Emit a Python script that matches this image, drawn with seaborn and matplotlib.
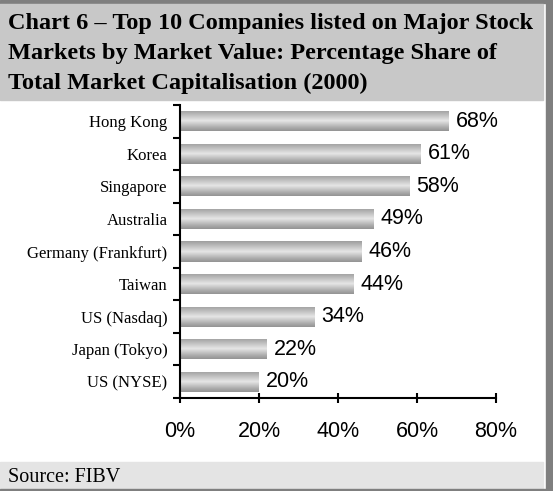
import numpy as np
import pandas as pd
import matplotlib
matplotlib.use("Agg")
import matplotlib.pyplot as plt
from matplotlib.patches import Rectangle
import seaborn as sns

# Data
markets = ["Hong Kong", "Korea", "Singapore", "Australia", "Germany (Frankfurt)",
           "Taiwan", "US (Nasdaq)", "Japan (Tokyo)", "US (NYSE)"]
share = [68, 61, 58, 49, 46, 44, 34, 22, 20]
x_ticks = [0, 20, 40, 60, 80]
x_tick_labels = ["0%", "20%", "40%", "60%", "80%"]

title = ("Chart 6 \u2013 Top 10 Companies listed on Major Stock\n"
         "Markets by Market Value: Percentage Share of\n"
         "Total Market Capitalisation (2000)")
source = "Source: FIBV"

df = pd.DataFrame({"market": markets, "share": share})

sns.set_style("white")
plt.rcParams["font.family"] = ["Liberation Serif", "DejaVu Serif"]
plt.rcParams["text.color"] = "black"
plt.rcParams["xtick.color"] = "black"
plt.rcParams["ytick.color"] = "black"

W, H = 553, 491
fig = plt.figure(figsize=(W / 100, H / 100), dpi=100)

def px(x0, y0, w, h, color):
    # rectangle in pixel units (top-left origin) drawn on the figure
    fig.patches.append(Rectangle((x0 / W, 1 - (y0 + h) / H), w / W, h / H,
                                 transform=fig.transFigure, color=color, zorder=0))

# frame pieces
px(0, 0, W, 3, "#7f7f7f")          # top border
px(0, 4, 543, 96, "#c8c8c8")       # title box
px(546, 0, 7, H, "#7f7f7f")        # right border
px(0, 462, 543, 27, "#e4e4e4")     # source box
px(0, 489, W, 2, "#7f7f7f")        # bottom border

fig.text(8 / W, 1 - 13 / H, title, ha="left", va="top", fontsize=17.5,
         fontweight="bold", linespacing=1.56, family=["Liberation Serif"])
fig.text(8 / W, 1 - 478 / H, source, ha="left", va="center", fontsize=14.5,
         family=["Liberation Serif"])

ax = fig.add_axes([180 / W, 1 - 398 / H, (496 - 180) / W, (398 - 105) / H])
ax.set_facecolor("none")

sns.barplot(data=df, x="share", y="market", color="#c0c0c0", width=0.62,
            ax=ax, zorder=2)

# cylinder-like shading on every bar
stops = [0.0, 0.15, 0.5, 0.85, 1.0]
levels = [0.62, 0.70, 0.90, 0.66, 0.58]
prof = np.interp(np.linspace(0, 1, 64), stops, levels)
grad = np.repeat(prof[:, None], 2, axis=1)
for p in ax.patches:
    x0, y0 = p.get_x(), p.get_y()
    w, h = p.get_width(), p.get_height()
    im = ax.imshow(grad, cmap="gray", vmin=0, vmax=1, aspect="auto",
                   extent=(x0, x0 + w, y0 + h, y0), origin="upper",
                   interpolation="bilinear", zorder=2)
    im.set_clip_path(p)
    p.set_facecolor("none")
    p.set_edgecolor("none")

for i, v in enumerate(share):
    ax.text(v + 1.8, i, f"{v}%", va="center", ha="left", fontsize=15.5,
            family=["Liberation Sans"], zorder=3)

ax.set_xlim(0, 80)
ax.set_ylim(len(markets) - 0.5, -0.5)
ax.set_xticks(x_ticks)
ax.set_xticklabels(x_tick_labels, fontsize=15.5, family=["Liberation Sans"])
ax.set_yticks(range(len(markets)))
ax.set_yticklabels(markets, fontsize=12)
ax.set_yticks(np.arange(-0.5, len(markets), 1.0), minor=True)
ax.set_xlabel("")
ax.set_ylabel("")

ax.tick_params(axis="y", which="major", length=0, pad=9)
ax.tick_params(axis="y", which="minor", direction="out", length=5, width=1.5,
               color="black", left=True)
ax.tick_params(axis="x", which="major", direction="inout", length=7, width=1.5,
               color="black", bottom=True, pad=13)

for side in ["top", "right"]:
    ax.spines[side].set_visible(False)
for side in ["left", "bottom"]:
    ax.spines[side].set_color("black")
    ax.spines[side].set_linewidth(1.5)
    ax.spines[side].set_zorder(4)

fig.savefig("out.png", dpi=100)
